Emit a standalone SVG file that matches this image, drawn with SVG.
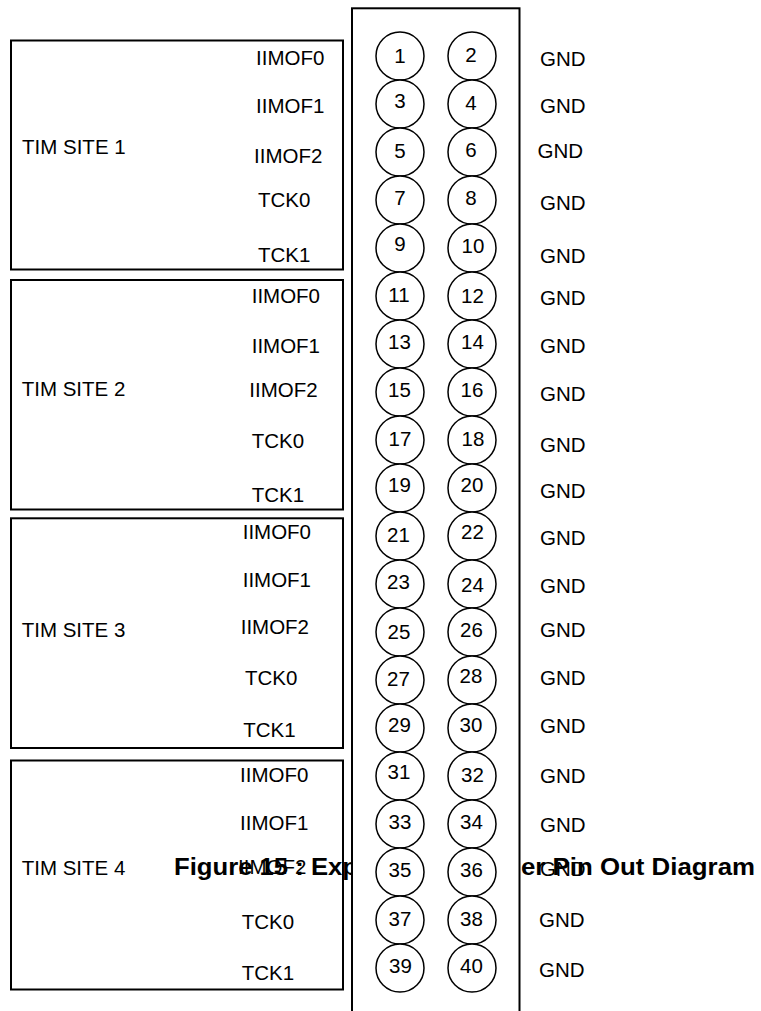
<svg xmlns="http://www.w3.org/2000/svg" width="761" height="1011" viewBox="0 0 761 1011">
<style>
  .box { fill: #fff; stroke: #000; stroke-width: 2; }
  .pin { fill: #fff; stroke: #000; stroke-width: 1.5; }
  .t { font-family: "Liberation Sans", Arial, sans-serif; font-size: 20.5px; fill: #000; }
  .n { font-family: "Liberation Sans", Arial, sans-serif; font-size: 20.5px; fill: #000; text-anchor: middle; }
  .cap { font-family: "Liberation Sans", Arial, sans-serif; font-size: 23px; font-weight: bold; fill: #000; }
</style>
<rect width="761" height="1011" fill="#fff"/>

<g id="site1">
  <rect class="box" x="11" y="40.5" width="332" height="229"/>
  <text class="t" x="22" y="154">TIM SITE 1</text>
  <text class="t" x="256" y="65">IIMOF0</text>
  <text class="t" x="256" y="113">IIMOF1</text>
  <text class="t" x="254" y="163">IIMOF2</text>
  <text class="t" x="258" y="207">TCK0</text>
  <text class="t" x="258" y="262">TCK1</text>
</g>
<g id="site2">
  <rect class="box" x="11" y="280" width="332" height="229.5"/>
  <text class="t" x="21.7" y="396">TIM SITE 2</text>
  <text class="t" x="251.7" y="303.3">IIMOF0</text>
  <text class="t" x="251.7" y="352.7">IIMOF1</text>
  <text class="t" x="249.3" y="396.7">IIMOF2</text>
  <text class="t" x="251.7" y="448.3">TCK0</text>
  <text class="t" x="251.7" y="501.7">TCK1</text>
</g>
<g id="site3">
  <rect class="box" x="11" y="518.3" width="332" height="229.7"/>
  <text class="t" x="21.7" y="636.7">TIM SITE 3</text>
  <text class="t" x="242.7" y="539.3">IIMOF0</text>
  <text class="t" x="242.7" y="587.3">IIMOF1</text>
  <text class="t" x="240.7" y="634">IIMOF2</text>
  <text class="t" x="245" y="685">TCK0</text>
  <text class="t" x="243.3" y="736.7">TCK1</text>
</g>
<g id="site4">
  <rect class="box" x="11" y="760.5" width="332" height="229"/>
  <text class="t" x="21.7" y="875">TIM SITE 4</text>
  <text class="t" x="240" y="781.7">IIMOF0</text>
  <text class="t" x="240" y="830">IIMOF1</text>
  <text class="t" x="238" y="874">IIMOF2</text>
  <text class="t" x="241.7" y="929">TCK0</text>
  <text class="t" x="241.7" y="980">TCK1</text>
</g>

<g id="gnd-labels">
  <text class="t" x="540" y="66">GND</text>
  <text class="t" x="540" y="113">GND</text>
  <text class="t" x="537.5" y="157.5">GND</text>
  <text class="t" x="540" y="210">GND</text>
  <text class="t" x="540" y="263">GND</text>
  <text class="t" x="540" y="305">GND</text>
  <text class="t" x="540" y="353">GND</text>
  <text class="t" x="540" y="401">GND</text>
  <text class="t" x="540" y="452">GND</text>
  <text class="t" x="540" y="498">GND</text>
  <text class="t" x="540" y="545">GND</text>
  <text class="t" x="540" y="593">GND</text>
  <text class="t" x="540" y="637">GND</text>
  <text class="t" x="540" y="685">GND</text>
  <text class="t" x="540" y="733">GND</text>
  <text class="t" x="540" y="783">GND</text>
  <text class="t" x="540" y="832">GND</text>
  <text class="t" x="540" y="876">GND</text>
  <text class="t" x="539" y="927">GND</text>
  <text class="t" x="539" y="977">GND</text>
</g>

<g id="caption">
  <text class="cap" x="174" y="875" textLength="184" lengthAdjust="spacingAndGlyphs">Figure 15 : Exp</text>
  <text class="cap" x="521" y="875" textLength="234" lengthAdjust="spacingAndGlyphs">er Pin Out Diagram</text>
</g>

<g id="header">
  <rect class="box" x="352" y="8.3" width="167.5" height="1020"/>
</g>

<g id="connectors"></g>

<g id="pins">
  <g id="pin1"><circle class="pin" cx="400" cy="56" r="24"/><text class="n" x="400" y="63.3">1</text></g>
  <g id="pin2"><circle class="pin" cx="472" cy="56" r="24"/><text class="n" x="471" y="61.7">2</text></g>
  <g id="pin3"><circle class="pin" cx="400" cy="104" r="24"/><text class="n" x="400" y="108.3">3</text></g>
  <g id="pin4"><circle class="pin" cx="472" cy="104" r="24"/><text class="n" x="471" y="110">4</text></g>
  <g id="pin5"><circle class="pin" cx="400" cy="152" r="24"/><text class="n" x="400" y="158.3">5</text></g>
  <g id="pin6"><circle class="pin" cx="472" cy="152" r="24"/><text class="n" x="471" y="157.3">6</text></g>
  <g id="pin7"><circle class="pin" cx="400" cy="200" r="24"/><text class="n" x="400" y="205">7</text></g>
  <g id="pin8"><circle class="pin" cx="472" cy="200" r="24"/><text class="n" x="471" y="205">8</text></g>
  <g id="pin9"><circle class="pin" cx="400" cy="248" r="24"/><text class="n" x="400" y="250.7">9</text></g>
  <g id="pin10"><circle class="pin" cx="472" cy="248" r="24"/><text class="n" x="473" y="253.3">10</text></g>
  <g id="pin11"><circle class="pin" cx="400" cy="296" r="24"/><text class="n" x="399" y="301.7">11</text></g>
  <g id="pin12"><circle class="pin" cx="472" cy="296" r="24"/><text class="n" x="472.5" y="303.3">12</text></g>
  <g id="pin13"><circle class="pin" cx="400" cy="344" r="24"/><text class="n" x="399.5" y="349.3">13</text></g>
  <g id="pin14"><circle class="pin" cx="472" cy="344" r="24"/><text class="n" x="472.5" y="349.3">14</text></g>
  <g id="pin15"><circle class="pin" cx="400" cy="392" r="24"/><text class="n" x="399.5" y="397.3">15</text></g>
  <g id="pin16"><circle class="pin" cx="472" cy="392" r="24"/><text class="n" x="472" y="397.3">16</text></g>
  <g id="pin17"><circle class="pin" cx="400" cy="440" r="24"/><text class="n" x="400" y="445.7">17</text></g>
  <g id="pin18"><circle class="pin" cx="472" cy="440" r="24"/><text class="n" x="473" y="445.7">18</text></g>
  <g id="pin19"><circle class="pin" cx="400" cy="488" r="24"/><text class="n" x="399.5" y="491.7">19</text></g>
  <g id="pin20"><circle class="pin" cx="472" cy="488" r="24"/><text class="n" x="472" y="491.7">20</text></g>
  <g id="pin21"><circle class="pin" cx="400" cy="536" r="24"/><text class="n" x="398.5" y="541.7">21</text></g>
  <g id="pin22"><circle class="pin" cx="472" cy="536" r="24"/><text class="n" x="472.5" y="539.3">22</text></g>
  <g id="pin23"><circle class="pin" cx="400" cy="584" r="24"/><text class="n" x="398.5" y="589.3">23</text></g>
  <g id="pin24"><circle class="pin" cx="472" cy="584" r="24"/><text class="n" x="472.5" y="591.7">24</text></g>
  <g id="pin25"><circle class="pin" cx="400" cy="632" r="24"/><text class="n" x="399" y="639.3">25</text></g>
  <g id="pin26"><circle class="pin" cx="472" cy="632" r="24"/><text class="n" x="471.5" y="637.3">26</text></g>
  <g id="pin27"><circle class="pin" cx="400" cy="680" r="24"/><text class="n" x="398.5" y="685.7">27</text></g>
  <g id="pin28"><circle class="pin" cx="472" cy="680" r="24"/><text class="n" x="471" y="683.3">28</text></g>
  <g id="pin29"><circle class="pin" cx="400" cy="728" r="24"/><text class="n" x="399.5" y="731.7">29</text></g>
  <g id="pin30"><circle class="pin" cx="472" cy="728" r="24"/><text class="n" x="471" y="731.7">30</text></g>
  <g id="pin31"><circle class="pin" cx="400" cy="776" r="24"/><text class="n" x="399" y="779.3">31</text></g>
  <g id="pin32"><circle class="pin" cx="472" cy="776" r="24"/><text class="n" x="472.5" y="781.7">32</text></g>
  <g id="pin33"><circle class="pin" cx="400" cy="824" r="24"/><text class="n" x="400" y="829.3">33</text></g>
  <g id="pin34"><circle class="pin" cx="472" cy="824" r="24"/><text class="n" x="471.5" y="829.3">34</text></g>
  <g id="pin35"><circle class="pin" cx="400" cy="872" r="24"/><text class="n" x="400" y="877.3">35</text></g>
  <g id="pin36"><circle class="pin" cx="472" cy="872" r="24"/><text class="n" x="471.5" y="877.3">36</text></g>
  <g id="pin37"><circle class="pin" cx="400" cy="920" r="24"/><text class="n" x="400" y="925.7">37</text></g>
  <g id="pin38"><circle class="pin" cx="472" cy="920" r="24"/><text class="n" x="471.5" y="925.7">38</text></g>
  <g id="pin39"><circle class="pin" cx="400" cy="968" r="24"/><text class="n" x="400.5" y="972.7">39</text></g>
  <g id="pin40"><circle class="pin" cx="472" cy="968" r="24"/><text class="n" x="471.5" y="972.7">40</text></g>
</g>
</svg>
